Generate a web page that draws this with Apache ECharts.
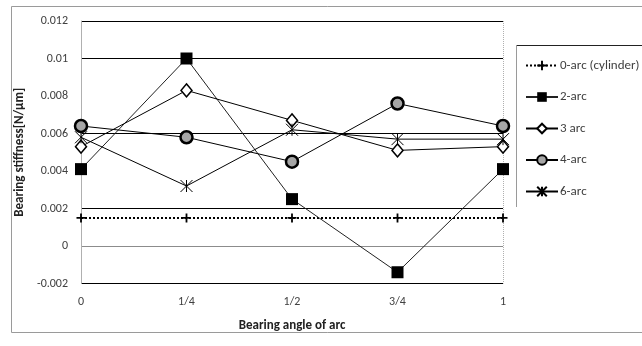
<!DOCTYPE html>
<html>
<head>
<meta charset="utf-8">
<script src="https://cdn.jsdelivr.net/npm/echarts@6/dist/echarts.min.js"></script>
<style>
  html, body { margin: 0; padding: 0; background: #fff; }
  #chart { width: 642px; height: 346px; }
</style>
</head>
<body>
<div id="chart"></div>
<script>
// Bearing angle positions along the arc
const angleLabels = ['0', '1/4', '1/2', '3/4', '1'];

// Bearing stiffness [N/μm] per bearing type
const arc0 = [0.0015, 0.0015, 0.0015, 0.0015, 0.0015];
const arc2 = [0.0041, 0.0100, 0.0025, -0.0014, 0.0041];
const arc3 = [0.0053, 0.0083, 0.0067, 0.0051, 0.0053];
const arc4 = [0.0064, 0.0058, 0.0045, 0.0076, 0.0064];
const arc6 = [0.0058, 0.0032, 0.0062, 0.0057, 0.0057];

const seriesNames = ['0-arc (cylinder)', '2-arc', '3 arc', '4-arc', '6-arc'];

const FONT = "'Carlito', 'Lato', 'Liberation Sans', sans-serif";
const TEXT = '#404040';

const plusPath = 'path://M4,0H6V4H10V6H6V10H4V6H0V4H4Z';
const starPath = 'path://M0,0L10,10M10,0L0,10M5,0L5,10';

const chart = echarts.init(document.getElementById('chart'), null, { renderer: 'canvas' });

chart.setOption({
  animation: false,
  backgroundColor: '#fff',
  textStyle: { fontFamily: FONT },
  graphic: [
    { type: 'rect', shape: { x: 11.5, y: 6.5, width: 640, height: 326 },
      style: { fill: 'none', stroke: '#9a9a9a', lineWidth: 1 }, silent: true, z: -10 },
    { type: 'line', shape: { x1: 516.5, y1: 45.5, x2: 642, y2: 45.5 },
      style: { stroke: '#222', lineWidth: 1 }, silent: true },
    { type: 'line', shape: { x1: 516.5, y1: 45.5, x2: 516.5, y2: 207 },
      style: { stroke: '#9a9a9a', lineWidth: 1 }, silent: true }
  ],
  legend: {
    orient: 'vertical',
    left: 520,
    top: 54,
    itemWidth: 32,
    itemHeight: 12,
    itemGap: 18.5,
    data: seriesNames,
    textStyle: { fontFamily: FONT, fontSize: 13, color: TEXT, padding: [0, 0, 0, -3] }
  },
  grid: { left: 81, right: 139, top: 21, bottom: 62.5 },
  xAxis: {
    type: 'category',
    boundaryGap: false,
    data: angleLabels,
    axisLine: { show: false },
    axisTick: { show: false },
    axisLabel: { margin: 12, fontFamily: FONT, fontSize: 12, color: TEXT },
    splitLine: {
      show: true,
      lineStyle: { color: ['transparent', 'transparent', 'transparent', 'transparent', '#b0b0b0'], type: 'dotted', width: 1 }
    },
    name: 'Bearing angle of arc',
    nameLocation: 'middle',
    nameGap: 36,
    nameTextStyle: { fontFamily: FONT, fontSize: 13, fontWeight: 'bold', color: '#222' }
  },
  yAxis: {
    type: 'value',
    min: -0.002,
    max: 0.012,
    interval: 0.002,
    axisLine: { show: true, lineStyle: { color: '#b0b0b0', width: 1 } },
    axisTick: { show: false },
    axisLabel: {
      margin: 13,
      fontFamily: FONT, fontSize: 12, color: TEXT,
      formatter: v => String(parseFloat(v.toFixed(4)))
    },
    splitLine: {
      show: true,
      lineStyle: { color: ['#000', '#8c8c8c', '#000', 'transparent', '#000', 'transparent', '#000', '#000'], width: 1 }
    },
    name: 'Bearing stiffness[N/μm]',
    nameLocation: 'middle',
    nameGap: 50,
    nameRotate: 90,
    nameTextStyle: { fontFamily: FONT, fontSize: 13, fontWeight: 'bold', color: '#222' }
  },
  series: [
    {
      name: seriesNames[0], type: 'line', data: arc0,
      symbol: plusPath, symbolSize: 9, showAllSymbol: true,
      itemStyle: { color: '#000' },
      lineStyle: { color: '#000', width: 2, type: [2, 2] },
      z: 2
    },
    {
      name: seriesNames[1], type: 'line', data: arc2,
      symbol: 'rect', symbolSize: 12,
      itemStyle: { color: '#000' },
      lineStyle: { color: '#222', width: 1 },
      z: 3
    },
    {
      name: seriesNames[2], type: 'line', data: arc3,
      symbol: 'diamond', symbolSize: [11, 13],
      itemStyle: { color: '#fff', borderColor: '#000', borderWidth: 1.5 },
      lineStyle: { color: '#000', width: 1 },
      z: 4
    },
    {
      name: seriesNames[3], type: 'line', data: arc4,
      symbol: 'circle', symbolSize: 12,
      itemStyle: { color: '#a6a6a6', borderColor: '#000', borderWidth: 2.5 },
      lineStyle: { color: '#000', width: 1 },
      z: 5
    },
    {
      name: seriesNames[4], type: 'line', data: arc6,
      symbol: starPath, symbolSize: 12,
      itemStyle: { color: 'transparent', borderColor: '#000', borderWidth: 1 },
      lineStyle: { color: '#000', width: 1 },
      z: 6
    }
  ]
});
</script>
</body>
</html>
